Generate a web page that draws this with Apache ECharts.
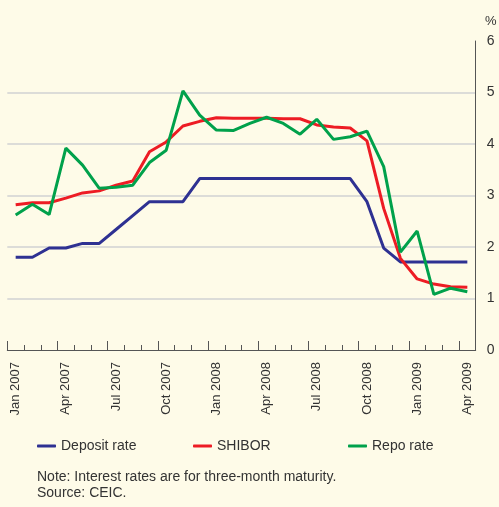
<!DOCTYPE html>
<html><head><meta charset="utf-8">
<script src="https://cdn.jsdelivr.net/npm/echarts@6/dist/echarts.min.js"></script>
<style>html,body{margin:0;padding:0;background:#fefbe8}#c{width:499px;height:507px}</style>
</head><body><div id="c"></div>
<script>
const categories = ['Jan 2007','Feb 2007','Mar 2007','Apr 2007','May 2007','Jun 2007','Jul 2007','Aug 2007','Sep 2007','Oct 2007','Nov 2007','Dec 2007',
  'Jan 2008','Feb 2008','Mar 2008','Apr 2008','May 2008','Jun 2008','Jul 2008','Aug 2008','Sep 2008','Oct 2008','Nov 2008','Dec 2008',
  'Jan 2009','Feb 2009','Mar 2009','Apr 2009'];
const depositRate = [1.80,1.80,1.98,1.98,2.07,2.07,2.34,2.61,2.88,2.88,2.88,3.33,
  3.33,3.33,3.33,3.33,3.33,3.33,3.33,3.33,3.33,2.88,1.98,1.71,
  1.71,1.71,1.71,1.71];
const shibor = [2.82,2.86,2.86,2.95,3.05,3.09,3.20,3.28,3.85,4.04,4.35,4.44,
  4.51,4.50,4.50,4.50,4.49,4.49,4.37,4.33,4.31,4.06,2.75,1.78,
  1.38,1.28,1.23,1.22];
const repoRate = [2.62,2.83,2.63,3.92,3.59,3.14,3.16,3.20,3.64,3.88,5.03,4.56,
  4.27,4.26,4.40,4.52,4.40,4.19,4.48,4.09,4.14,4.25,3.56,1.90,
  2.31,1.08,1.20,1.13];
const yTicks = [0,1,2,3,4,5,6];

const txt = '#333333';
const font = 'Liberation Sans, Arial, sans-serif';
const chart = echarts.init(document.getElementById('c'));
const lg = {itemWidth: 19, itemHeight: 3, icon: 'roundRect', textStyle: {fontSize: 14, color: txt, fontFamily: font}};
chart.setOption({
  backgroundColor: '#fefbe8',
  animation: false,
  textStyle: {fontFamily: font},
  grid: {left: 7.3, right: 23.3, top: 41, bottom: 157},
  xAxis: [{
    type: 'category', data: categories, boundaryGap: true,
    axisLine: {show: true, lineStyle: {color: '#555555', width: 1}},
    axisTick: {show: true, inside: true, interval: 0, length: 5, lineStyle: {color: '#555555'}},
    axisLabel: {interval: 2, rotate: 90, fontSize: 13, color: txt, margin: 12, fontFamily: font},
    splitLine: {show: false}
  }, {
    type: 'category', data: categories, boundaryGap: true, position: 'bottom',
    axisLine: {show: false},
    axisTick: {show: true, inside: true, interval: 2, length: 9, lineStyle: {color: '#555555'}},
    axisLabel: {show: false},
    splitLine: {show: false}
  }],
  yAxis: {
    type: 'value', position: 'right', min: 0, max: 6, interval: 1,
    axisLine: {show: true, lineStyle: {color: '#555555', width: 1}},
    axisTick: {show: false},
    axisLabel: {fontSize: 14, color: txt, margin: 11, fontFamily: font,
      formatter: v => yTicks.includes(v) ? String(v) : ''},
    splitLine: {show: true, lineStyle: {width: 2,
      color: ['rgba(0,0,0,0)','#dcdcd8','#dcdcd8','#dcdcd8','#dcdcd8','#dcdcd8','rgba(0,0,0,0)']}}
  },
  legend: [
    Object.assign({data: ['Deposit rate'], left: 32, top: 434}, lg),
    Object.assign({data: ['SHIBOR'], left: 188, top: 434}, lg),
    Object.assign({data: ['Repo rate'], left: 343, top: 434}, lg)
  ],
  graphic: [
    {type: 'text', left: 485, top: 15, style: {text: '%', fontSize: 13, fill: txt, fontFamily: font}},
    {type: 'text', left: 37, top: 470, style: {text: 'Note: Interest rates are for three-month maturity.', fontSize: 14, fill: txt, fontFamily: font}},
    {type: 'text', left: 37, top: 486, style: {text: 'Source: CEIC.', fontSize: 14, fill: txt, fontFamily: font}}
  ],
  series: [
    {name: 'Deposit rate', type: 'line', data: depositRate, symbol: 'none', color: '#2e3192', lineStyle: {width: 3, color: '#2e3192'}},
    {name: 'SHIBOR', type: 'line', data: shibor, symbol: 'none', color: '#ed1c24', lineStyle: {width: 3, color: '#ed1c24'}},
    {name: 'Repo rate', type: 'line', data: repoRate, symbol: 'none', color: '#00a14b', lineStyle: {width: 3, color: '#00a14b'}}
  ]
});
</script></body></html>
